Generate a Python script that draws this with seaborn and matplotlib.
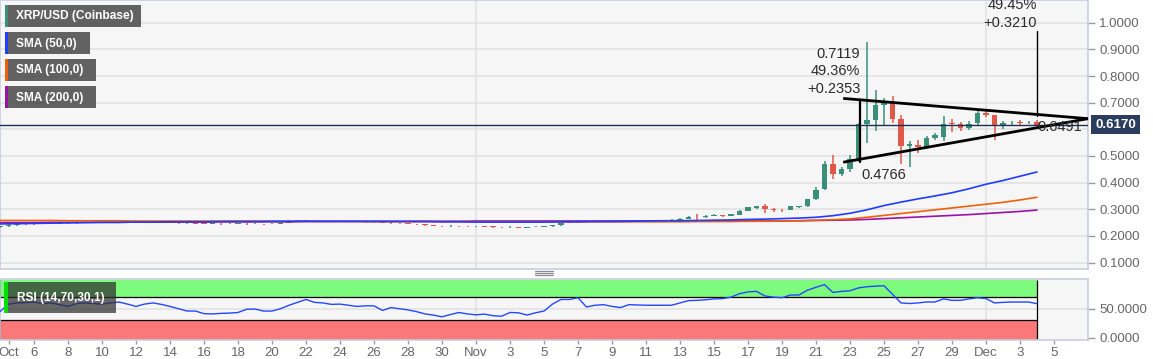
import numpy as np
import pandas as pd
import matplotlib
matplotlib.use("Agg")
import matplotlib.pyplot as plt
import matplotlib.transforms as mtransforms
from matplotlib.patches import Rectangle
from matplotlib.lines import Line2D
import seaborn as sns

# ---------------- data (12h XRP/USD candles, Coinbase) ----------------
start = "2020-10-04"
open_ = [0.233,0.236,0.240,0.243,0.246,0.244,0.248,0.246,0.247,0.249,
         0.248,0.250,0.251,0.252,0.250,0.251,0.253,0.252,0.251,0.249,
         0.250,0.249,0.247,0.248,0.246,0.245,0.246,0.244,0.245,0.246,
         0.244,0.245,0.244,0.246,0.250,0.256,0.258,0.255,0.256,0.254,
         0.255,0.256,0.254,0.253,0.251,0.252,0.250,0.248,0.247,0.245,
         0.244,0.240,0.238,0.236,0.238,0.237,0.236,0.237,0.235,0.234,
         0.232,0.234,0.231,0.233,0.235,0.236,0.240,0.250,0.252,0.256,
         0.253,0.255,0.254,0.256,0.255,0.257,0.258,0.257,0.259,0.258,
         0.260,0.264,0.272,0.271,0.275,0.277,0.275,0.280,0.295,0.305,
         0.311,0.302,0.299,0.298,0.309,0.312,0.337,0.377,0.469,0.434,
         0.453,0.490,0.620,0.635,0.693,0.697,0.639,0.537,0.543,0.533,
         0.568,0.570,0.624,0.620,0.604,0.624,0.661,0.652,0.611,0.622,
         0.629,0.626,0.629]
high = [0.238,0.243,0.245,0.249,0.253,0.250,0.250,0.249,0.251,0.251,
        0.252,0.253,0.254,0.253,0.253,0.255,0.255,0.253,0.252,0.252,
        0.251,0.250,0.250,0.249,0.247,0.248,0.247,0.247,0.248,0.247,
        0.247,0.246,0.248,0.252,0.258,0.261,0.259,0.258,0.257,0.257,
        0.259,0.257,0.256,0.254,0.254,0.253,0.251,0.249,0.248,0.246,
        0.245,0.241,0.239,0.240,0.239,0.239,0.239,0.238,0.237,0.235,
        0.236,0.235,0.235,0.238,0.238,0.242,0.252,0.254,0.259,0.257,
        0.257,0.256,0.258,0.257,0.259,0.260,0.259,0.261,0.260,0.262,
        0.266,0.274,0.283,0.278,0.281,0.280,0.283,0.297,0.309,0.314,
        0.318,0.305,0.302,0.313,0.314,0.339,0.382,0.480,0.503,0.457,
        0.503,0.625,0.926,0.748,0.716,0.725,0.652,0.558,0.560,0.575,
        0.585,0.649,0.639,0.628,0.630,0.677,0.675,0.655,0.632,0.632,
        0.634,0.632,0.634]
low = [0.231,0.234,0.238,0.241,0.242,0.243,0.244,0.245,0.246,0.246,
       0.247,0.249,0.249,0.248,0.249,0.250,0.250,0.249,0.247,0.248,
       0.247,0.245,0.246,0.244,0.243,0.244,0.242,0.243,0.244,0.242,
       0.243,0.242,0.243,0.245,0.249,0.255,0.253,0.254,0.252,0.253,
       0.253,0.252,0.251,0.249,0.250,0.248,0.246,0.245,0.243,0.242,
       0.238,0.236,0.233,0.235,0.235,0.234,0.235,0.233,0.231,0.229,
       0.231,0.228,0.230,0.232,0.234,0.235,0.238,0.249,0.250,0.251,
       0.252,0.252,0.253,0.253,0.254,0.255,0.255,0.256,0.256,0.257,
       0.259,0.262,0.258,0.268,0.273,0.272,0.273,0.278,0.293,0.302,
       0.286,0.290,0.290,0.296,0.306,0.310,0.333,0.372,0.412,0.425,
       0.440,0.477,0.550,0.595,0.614,0.622,0.469,0.459,0.510,0.525,
       0.560,0.556,0.590,0.595,0.598,0.614,0.648,0.560,0.600,0.615,
       0.618,0.620,0.612]
close = [0.236,0.240,0.243,0.246,0.244,0.248,0.246,0.247,0.249,0.248,
         0.250,0.251,0.252,0.250,0.251,0.253,0.252,0.251,0.249,0.250,
         0.249,0.247,0.248,0.246,0.245,0.246,0.244,0.245,0.246,0.244,
         0.245,0.244,0.246,0.250,0.256,0.258,0.255,0.256,0.254,0.255,
         0.256,0.254,0.253,0.251,0.252,0.250,0.248,0.247,0.245,0.244,
         0.240,0.238,0.236,0.238,0.237,0.236,0.237,0.235,0.234,0.232,
         0.234,0.231,0.233,0.235,0.236,0.240,0.250,0.252,0.256,0.253,
         0.255,0.254,0.256,0.255,0.257,0.258,0.257,0.259,0.258,0.260,
         0.264,0.272,0.271,0.276,0.277,0.275,0.281,0.295,0.307,0.311,
         0.301,0.296,0.297,0.311,0.311,0.337,0.374,0.469,0.434,0.453,
         0.490,0.620,0.635,0.693,0.697,0.639,0.539,0.545,0.533,0.568,
         0.578,0.620,0.620,0.604,0.620,0.661,0.652,0.611,0.624,0.625,
         0.625,0.629,0.617]

# daily simple moving averages
sma50 = [0.245,0.246,0.247,0.248,0.249,0.250,0.251,0.251,0.252,0.252,
         0.253,0.253,0.253,0.254,0.254,0.254,0.255,0.255,0.255,0.255,
         0.255,0.255,0.255,0.254,0.254,0.254,0.253,0.253,0.252,0.252,
         0.252,0.252,0.252,0.253,0.253,0.254,0.254,0.255,0.256,0.257,
         0.257,0.258,0.259,0.260,0.262,0.263,0.265,0.267,0.270,0.276,
         0.285,0.298,0.314,0.327,0.339,0.350,0.362,0.377,0.394,0.408,
         0.424,0.440]
sma100 = [0.258,0.258,0.258,0.258,0.257,0.257,0.257,0.257,0.256,0.256,
          0.256,0.256,0.256,0.256,0.256,0.256,0.255,0.255,0.255,0.255,
          0.255,0.255,0.254,0.254,0.254,0.254,0.254,0.254,0.253,0.253,
          0.253,0.253,0.253,0.253,0.253,0.253,0.253,0.253,0.253,0.253,
          0.253,0.254,0.254,0.254,0.255,0.255,0.256,0.257,0.259,0.261,
          0.264,0.270,0.277,0.284,0.291,0.298,0.305,0.312,0.319,0.326,
          0.335,0.345]
sma200 = [0.250,0.250,0.250,0.251,0.251,0.251,0.251,0.251,0.252,0.252,
          0.252,0.252,0.252,0.253,0.253,0.253,0.253,0.253,0.254,0.254,
          0.254,0.254,0.254,0.255,0.255,0.255,0.255,0.255,0.256,0.256,
          0.256,0.256,0.256,0.256,0.256,0.256,0.256,0.256,0.256,0.256,
          0.256,0.256,0.256,0.256,0.256,0.256,0.256,0.257,0.258,0.259,
          0.260,0.262,0.265,0.268,0.271,0.274,0.277,0.280,0.284,0.288,
          0.292,0.297]

rsi = [45,58,60,60.5,61.5,59,60,57,54,59,
       60,59,58,60,61.5,58,54,58,60,57.5,
       54,50,46,46,41.5,41,42,42.5,43.5,49,
       49.5,46,46,50,56,61,66,61,60,57.5,
       58,56,54,55,55,47,52,50,48,45,
       41,39,36,40,43.5,41,39.5,40.7,38,37,
       43.5,43,39,43,46,58,66,66,69,53,
       56,57,54,52,57,56.5,56,56,56,56,
       60,64,64.5,65.5,67,67.5,70,76,79,80,
       72,70,69,73.7,73.7,82,87,91.6,78,80,
       81,86,88,89,89.7,75,60,59,60,61.6,
       61.6,67,64.5,64.5,67,69,67.6,60,61,61.6,
       61.6,61.6,58.7]

last_price = 0.6170
# symmetrical triangle (days from start) and move annotations
tri_x = [49.6, 64.0]
tri_upper = [0.716, 0.640]
tri_lower = [0.4766, 0.640]
move1 = (50.6, 0.4766, 0.7119, "0.7119\n49.36%\n+0.2353")
move2 = (61.0, 0.6491, 0.9701, "49.45%\n+0.3210")

y_ticks = [0.1, 0.2, 0.3, 0.4, 0.5, 0.7, 0.8, 0.9, 1.0]
x_tick_dates = ["2020-10-04 12:00"] + [f"2020-10-{d:02d} 00:00" for d in range(6, 31, 2)] \
    + ["2020-11-01 00:00"] + [f"2020-11-{d:02d} 00:00" for d in range(3, 30, 2)] \
    + ["2020-12-01 00:00", "2020-12-03 00:00", "2020-12-05 00:00"]
x_tick_labels = ["Oct"] + [str(d) for d in range(6, 31, 2)] + ["Nov"] \
    + [str(d) for d in range(3, 30, 2)] + ["Dec", "3", "5"]
legend_items = [("XRP/USD (Coinbase)", "#3a8f78"), ("SMA (50,0)", "#1f3cff"),
                ("SMA (100,0)", "#f0600a"), ("SMA (200,0)", "#9a12a8")]

# ---------------- helpers ----------------
t0 = pd.Timestamp(start)
def days(ts):
    return (pd.to_datetime(ts, format="mixed") - t0) / pd.Timedelta(days=1)

cdays = np.asarray(days(pd.date_range(start, periods=len(close), freq="12h")))
sdays = np.asarray(days(pd.date_range(start, periods=len(sma50), freq="D")))

sns.set_theme(style="white")
plt.rcParams['font.family'] = ['Liberation Sans', 'DejaVu Sans']

W, H = 1153, 359
fig = plt.figure(figsize=(W / 100, H / 100), dpi=100)
fig.patch.set_facecolor("white")

def fx(px):
    return px / W
def fy(py):
    return 1 - py / H

BG = "#f6f6f6"
GRID = "#e2e2e2"
SPINE = "#c8cde0"
TICKC = "#666666"

ax = fig.add_axes([0, fy(268.5), fx(1088), fy(0) - fy(268.5)])
axr = fig.add_axes([0, fy(340), fx(1088), fy(278.5) - fy(340)], sharex=ax)

for a in (ax, axr):
    a.set_facecolor(BG)
    for s in a.spines.values():
        s.set_color(SPINE)
        s.set_linewidth(1.2)

# ---- main panel ----
ax.set_xlim(0, 64.0)
ax.set_ylim(0.0778, 1.0853)
for yv in y_ticks + [0.6]:
    ax.axhline(yv, color=GRID, lw=1.2, zorder=0)
for dv in days(["2020-11-01 00:00", "2020-12-01 00:00"]):
    ax.axvline(dv, color=GRID, lw=1.2, zorder=0)
    axr.axvline(dv, color=GRID, lw=1.2, zorder=0)

o = np.array(open_); c = np.array(close); hi = np.array(high); lo = np.array(low)
cols = np.where(c >= o, "#3a8f78", "#e0584a")
ax.vlines(cdays, lo, hi, colors=cols, lw=1.1, zorder=3)
body = np.maximum(np.abs(c - o), 0.0018)
ax.bar(cdays, body, bottom=np.minimum(o, c), width=0.34, color=cols, lw=0, zorder=4)

sma_df = pd.DataFrame({"day": sdays, "SMA50": sma50, "SMA100": sma100, "SMA200": sma200})
for col, colr in (("SMA200", "#9a12a8"), ("SMA100", "#f0600a"), ("SMA50", "#1f3cff")):
    sns.lineplot(data=sma_df, x="day", y=col, ax=ax, color=colr, lw=1.2, zorder=5)

ax.axhline(last_price, color="#1e2f52", lw=1.0, zorder=6)

ax.plot(tri_x, tri_upper, color="black", lw=2.0, zorder=7, solid_capstyle="butt", clip_on=False)
ax.plot(tri_x, tri_lower, color="black", lw=2.0, zorder=7, solid_capstyle="butt", clip_on=False)
ax.plot([move1[0]] * 2, [move1[1], move1[2]], color="black", lw=1.6, zorder=7)
ax.plot([move2[0]] * 2, [move2[1], move2[2]], color="black", lw=1.0, zorder=7)

ann = dict(color="#2b2b2b", fontsize=10.5, zorder=8)
ax.text(move1[0], 0.7119 + 0.012, move1[3], ha="right", va="bottom", linespacing=1.35, **ann)
ax.text(move2[0], 0.9701 + 0.004, move2[3], ha="right", va="bottom", linespacing=1.35, **ann)
ax.text(move1[0] + 0.05, 0.4766 - 0.02, "0.4766", ha="left", va="top", **ann)
ax.text(move2[0] + 0.05, 0.607, "0.6491", ha="left", va="center", **ann)

ax.yaxis.tick_right()
ax.set_yticks(y_ticks)
ax.set_yticklabels([f"{v:.4f}" for v in y_ticks])
ax.tick_params(axis="y", colors="#999999", labelcolor=TICKC, labelsize=9.5,
               length=5, width=1, direction="out", pad=3, right=True, left=False)
ax.tick_params(axis="x", bottom=False, labelbottom=False)
ax.set_xlabel(""); ax.set_ylabel("")
ax.grid(False)

tr = mtransforms.blended_transform_factory(ax.transAxes, ax.transData)
ax.text(1.0065, last_price, "0.6170", transform=tr, ha="left", va="center",
        color="white", fontsize=9.5, fontweight="bold", zorder=10, clip_on=False,
        bbox=dict(boxstyle="square,pad=0.28", fc="#2a3d5e", ec="none"))

# legend boxes
for k, (lab, colr) in enumerate(legend_items):
    top = [5, 32.3, 59, 86][k]
    right = [141, 90, 96, 96][k]
    fig.patches.append(Rectangle((fx(5), fy(top + 21.7)), fx(right) - fx(5), fy(top) - fy(top + 21.7),
                                 transform=fig.transFigure, fc="#4a4a4a", alpha=0.86, ec="none", zorder=20))
    fig.patches.append(Rectangle((fx(5), fy(top + 21.7)), fx(3), fy(top) - fy(top + 21.7),
                                 transform=fig.transFigure, fc=colr, ec="none", zorder=21))
    fig.text(fx(16.5), fy(top + 11.5), lab, color="white", fontsize=8.6, fontweight="bold",
             ha="left", va="center", zorder=22)

# ---- RSI panel ----
axr.set_ylim(-4, 102.2)
last_day = cdays[-1]
axr.fill_between([0, last_day], 70, 100, color="#7cfb7c", lw=0, zorder=1)
axr.fill_between([0, last_day], -4, 30, color="#fb7878", lw=0, zorder=1)
axr.axhline(50, color=GRID, lw=1.2, zorder=0)
axr.hlines([70, 30], 0, last_day, color="black", lw=0.9, zorder=2)
axr.vlines(last_day, -4, 100, color="black", lw=0.9, zorder=2)
axr.vlines(0.02, 70, 100, color="black", lw=1.2, zorder=2)
axr.vlines(0.02, -4, 30, color="black", lw=1.2, zorder=2)

rsi_df = pd.DataFrame({"day": cdays, "rsi": rsi})
sns.lineplot(data=rsi_df, x="day", y="rsi", ax=axr, color="#2447ff", lw=1.0, zorder=4)

axr.yaxis.tick_right()
axr.set_yticks([0, 50])
axr.set_yticklabels(["0.0000", "50.0000"])
axr.tick_params(axis="y", colors="#999999", labelcolor=TICKC, labelsize=9.5,
                length=5, width=1, direction="out", pad=3, right=True, left=False)
axr.set_xticks(np.asarray(days(x_tick_dates)))
axr.set_xticklabels(x_tick_labels)
axr.tick_params(axis="x", colors="#999999", labelcolor=TICKC, labelsize=9.5,
                length=3, width=1, direction="out", pad=2, bottom=True)
axr.set_xlabel(""); axr.set_ylabel("")
axr.grid(False)
axr.set_xlim(0, 64.0)

fig.patches.append(Rectangle((fx(5.2), fy(312.8)), fx(115.7) - fx(5.2), fy(282) - fy(312.8),
                             transform=fig.transFigure, fc="#2e2e2e", alpha=0.72, ec="none", zorder=20))
fig.patches.append(Rectangle((fx(4), fy(312.8)), fx(3.6), fy(282) - fy(312.8),
                             transform=fig.transFigure, fc="#00e000", ec="none", zorder=21))
fig.text(fx(17), fy(297.5), "RSI (14,70,30,1)", color="white", fontsize=8.6, fontweight="bold",
         ha="left", va="center", zorder=22)

# panel resize handle
for yy in (270.8, 272.8, 274.8):
    fig.lines.append(Line2D([fx(535), fx(553)], [fy(yy), fy(yy)], transform=fig.transFigure,
                            color="#8a8a8a", lw=0.9))

fig.savefig("out.png", dpi=100, facecolor="white")
